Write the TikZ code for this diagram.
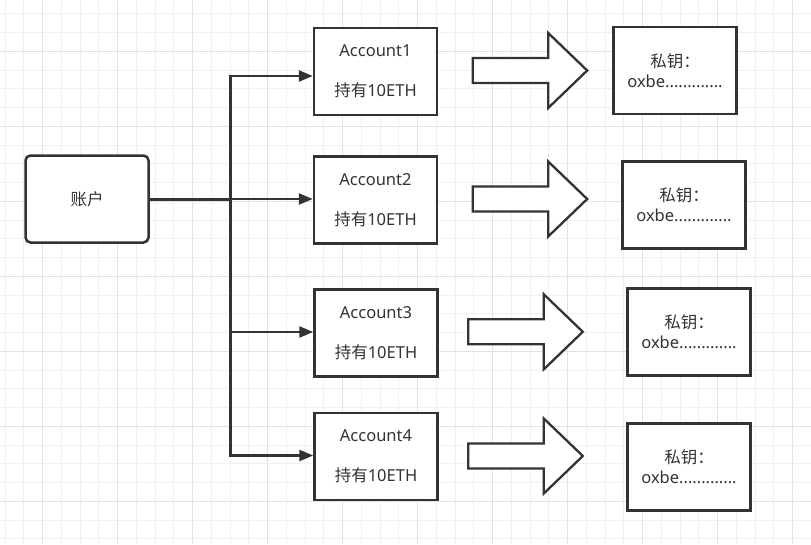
\documentclass[tikz,border=0pt]{standalone}
\usepackage{fontspec}
\setmainfont{Noto Sans}
\newfontfamily\cjk{Noto Sans CJK SC}
\usetikzlibrary{arrows.meta,calc}
\definecolor{ink}{HTML}{333333}
\definecolor{gridminor}{HTML}{F0F0F0}
\definecolor{gridmajor}{HTML}{E2E2E2}
\begin{document}
\begin{tikzpicture}[x=1pt,y=-1pt,
  box/.style={draw=ink, line width=2.5pt, fill=white, minimum width=123pt, minimum height=87pt,
    inner sep=0pt, align=center, text=ink, font=\fontsize{16.5}{40}\selectfont},
  keybox/.style={box, font=\fontsize{16.5}{20}\selectfont},
  conn/.style={draw=ink, line width=2.4pt, -{Triangle[length=14pt,width=11pt]}},
  trunk/.style={draw=ink, line width=3pt},
  bigarrow/.style={draw=ink, line width=2.3pt, fill=white, line join=miter},
  bigarr/.pic={\draw[bigarrow] (0,-12.5) -- (75.5,-12.5) -- (75.5,-37.5) -- (114.5,0)
      -- (75.5,37.5) -- (75.5,12.5) -- (0,12.5) -- cycle;}]
\useasboundingbox (0,0) rectangle (811,544);
\fill[white] (0,0) rectangle (811,544);
% grid
\foreach \k in {0,...,43} \draw[gridminor, line width=1pt] ({5.2+18.75*\k},0) -- ({5.2+18.75*\k},544);
\foreach \k in {0,...,28} \draw[gridminor, line width=1pt] (0,{13.8+18.75*\k}) -- (811,{13.8+18.75*\k});
\foreach \k in {0,...,10} \draw[gridmajor, line width=1pt] ({42.7+75*\k},0) -- ({42.7+75*\k},544);
\foreach \k in {0,...,6} \draw[gridmajor, line width=1pt] (0,{51.3+75*\k}) -- (811,{51.3+75*\k});

% nodes
\node[box, rounded corners=5pt] (zh) at (87,199) {{\cjk 账户}};
\node[box] (a1) at (375.5,71.5) {Account1\\{\cjk 持有}10ETH};
\node[box] (a2) at (375.5,200) {Account2\\{\cjk 持有}10ETH};
\node[box] (a3) at (376,333) {Account3\\{\cjk 持有}10ETH};
\node[box] (a4) at (376,456.5) {Account4\\{\cjk 持有}10ETH};

\node[keybox] (k1) at (675,70.5) {{\cjk 私钥：}\\oxbe.............};
\node[keybox] (k2) at (684,205) {{\cjk 私钥：}\\oxbe.............};
\node[keybox] (k3) at (689,332) {{\cjk 私钥：}\\oxbe.............};
\node[keybox] (k4) at (689,467) {{\cjk 私钥：}\\oxbe.............};

% connectors
\coordinate (j) at (230.5,199);
\coordinate (e1) at ($(a1.west)+(0,4.5)$);
\coordinate (e2) at ($(a2.west)+(0,-1)$);
\coordinate (e3) at ($(a3.west)+(0,-1)$);
\coordinate (e4) at ($(a4.west)+(0,-1)$);
\draw[trunk] (zh.east) -- (j);
\draw[conn] (j) |- (e1);
\draw[conn] (zh.east) -- (e2);
\draw[conn] (j) |- (e3);
\draw[conn] (j) |- (e4);

% big arrows
\pic at (472.7,70.5) {bigarr};
\pic at (472.7,199) {bigarr};
\pic at (468.3,331.8) {bigarr};
\pic at (468.3,456) {bigarr};
\end{tikzpicture}
\end{document}
